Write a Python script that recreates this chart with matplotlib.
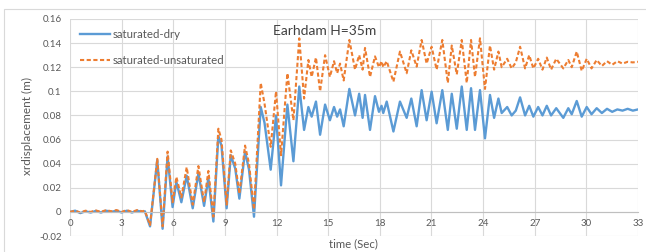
import matplotlib
matplotlib.use("Agg")
import matplotlib.pyplot as plt
from matplotlib.patches import Rectangle

# time (Sec) and x-displacement (m)
time_s = [0.0, 0.3, 0.6, 0.9, 1.2, 1.5, 1.8, 2.1, 2.4, 2.7, 3.0, 3.3, 3.6, 3.9, 4.2, 4.35,
          4.65, 5.07, 5.38, 5.67, 5.96, 6.18, 6.47, 6.78, 7.13, 7.46, 7.79, 8.04, 8.33, 8.62,
          8.8, 9.1, 9.34, 9.6, 9.84, 10.17, 10.4, 10.69, 11.08, 11.3, 11.66, 11.97, 12.26,
          12.63, 12.98, 13.32, 13.6, 13.85, 14.04, 14.29, 14.53, 14.82, 15.1, 15.34, 15.52,
          15.69, 15.9, 16.23, 16.56, 16.8, 17.0, 17.14, 17.43, 17.72, 17.95, 18.1, 18.2,
          18.4, 18.79, 19.17, 19.56, 19.83, 20.14, 20.43, 20.72, 21.01, 21.3, 21.63, 21.95,
          22.18, 22.47, 22.76, 23.05, 23.3, 23.53, 23.82, 24.11, 24.4, 24.64, 24.89, 25.08,
          25.4, 25.66, 25.9, 26.15, 26.44, 26.68, 26.92, 27.2, 27.45, 27.7, 27.95, 28.25,
          28.66, 28.95, 29.15, 29.44, 29.73, 30.02, 30.3, 30.6, 30.9, 31.2, 31.5, 31.8,
          32.1, 32.4, 32.7, 33.0]

sat_dry = [0.0, 0.001, -0.001, 0.0005, -0.0005, 0.0008, -0.0005, 0.001, 0.0, 0.001, -0.0005,
           0.001, -0.0005, 0.001, 0.0, 0.0005,
           -0.012, 0.043, -0.014, 0.046, 0.004, 0.025, 0.008, 0.030, 0.003, 0.032, 0.005,
           0.028, -0.008, 0.063, 0.055, 0.003, 0.047, 0.036, 0.011, 0.050, 0.035, -0.004,
           0.087, 0.074, 0.035, 0.080, 0.022, 0.089, 0.042, 0.104, 0.068, 0.087, 0.079,
           0.0915, 0.064, 0.089, 0.076, 0.087, 0.079, 0.085, 0.071, 0.102, 0.080, 0.098,
           0.078, 0.097, 0.068, 0.096, 0.083, 0.088, 0.082, 0.0915, 0.0667, 0.0915, 0.078,
           0.094, 0.071, 0.101, 0.076, 0.0997, 0.0735, 0.101, 0.068, 0.098, 0.069, 0.104,
           0.068, 0.1026, 0.068, 0.101, 0.061, 0.097, 0.078, 0.094, 0.082, 0.087, 0.080,
           0.084, 0.095, 0.080, 0.088, 0.079, 0.087, 0.080, 0.088, 0.080, 0.086, 0.078,
           0.086, 0.081, 0.092, 0.079, 0.087, 0.081, 0.086, 0.082, 0.0855, 0.083, 0.085,
           0.084, 0.0855, 0.084, 0.085]

sat_unsat = [0.0, 0.001, -0.0005, 0.001, 0.0, 0.0012, 0.0, 0.0015, 0.0005, 0.0015, 0.0,
             0.0015, 0.0, 0.0015, 0.0005, 0.001,
             -0.011, 0.044, -0.012, 0.050, 0.008, 0.029, 0.012, 0.037, 0.006, 0.038, 0.008,
             0.034, -0.004, 0.069, 0.060, 0.006, 0.051, 0.040, 0.015, 0.055, 0.040, 0.002,
             0.107, 0.090, 0.054, 0.100, 0.047, 0.115, 0.076, 0.144, 0.094, 0.126, 0.112,
             0.128, 0.100, 0.130, 0.112, 0.125, 0.115, 0.123, 0.109, 0.1426, 0.118, 0.130,
             0.118, 0.136, 0.112, 0.129, 0.120, 0.125, 0.120, 0.125, 0.108, 0.133, 0.115,
             0.134, 0.1205, 0.1426, 0.123, 0.137, 0.118, 0.1426, 0.107, 0.138, 0.114, 0.1426,
             0.107, 0.1426, 0.112, 0.144, 0.102, 0.138, 0.118, 0.133, 0.120, 0.127, 0.119,
             0.124, 0.137, 0.119, 0.130, 0.119, 0.127, 0.118, 0.128, 0.118, 0.127, 0.119,
             0.126, 0.120, 0.133, 0.117, 0.127, 0.119, 0.126, 0.121, 0.125, 0.122, 0.125,
             0.123, 0.1245, 0.124, 0.1245]

x_ticks = [0, 3, 6, 9, 12, 15, 18, 21, 24, 27, 30, 33]
y_ticks = [-0.02, 0, 0.02, 0.04, 0.06, 0.08, 0.1, 0.12, 0.14, 0.16]
y_labels = ["-0.02", "0", "0.02", "0.04", "0.06", "0.08", "0.1", "0.12", "0.14", "0.16"]

plt.rcParams['font.family'] = ['Lato', 'DejaVu Sans']
txt = '#595959'
grid_c = '#D9D9D9'

fig = plt.figure(figsize=(6.46, 2.52), dpi=100)
fig.patches.append(Rectangle((0.006, -0.1), 1.2, 1.064, transform=fig.transFigure,
                             fill=False, edgecolor=grid_c, linewidth=0.8))
ax = fig.add_axes([70 / 646, 16 / 252, 568 / 646, 217 / 252])

ax.plot(time_s, sat_dry, color='#5B9BD5', linewidth=1.7, solid_joinstyle='round',
        label='saturated-dry')
ax.plot(time_s, sat_unsat, color='#ED7D31', linewidth=1.5, linestyle=(0, (2, 1.2)),
        dash_joinstyle='round', label='saturated-unsaturated')

ax.set_xlim(0, 33)
ax.set_ylim(-0.02, 0.16)
ax.set_xticks(x_ticks)
ax.set_yticks(y_ticks)
ax.set_yticklabels(y_labels)
ax.grid(True, color=grid_c, linewidth=0.8)
ax.set_axisbelow(True)

for s in ['top', 'right', 'left']:
    ax.spines[s].set_visible(False)
ax.spines['bottom'].set_position(('data', 0))
ax.spines['bottom'].set_color('#BFBFBF')
ax.spines['bottom'].set_linewidth(0.8)
ax.tick_params(axis='both', length=0, labelsize=7, labelcolor=txt)
ax.tick_params(axis='x', pad=5)
ax.tick_params(axis='y', pad=6)

ax.legend(loc='upper left', bbox_to_anchor=(0.0176, 0.955), frameon=False, fontsize=8.2,
          handlelength=2.6, handletextpad=0.3, labelspacing=1.35, borderpad=0,
          borderaxespad=0, labelcolor=txt)

ax.text(0.449, 0.945, 'Earhdam H=35m', transform=ax.transAxes, ha='center', va='center',
        fontsize=10, color='#404040')

fig.text(353 / 646, 1 - 244 / 252, 'time (Sec)', ha='center', va='center', fontsize=8.2,
         color=txt)
fig.text(27 / 646, 0.5, 'xrdisplacement (m)', rotation=90, ha='center', va='center',
         fontsize=8.5, color=txt)

fig.savefig('out.png', dpi=100)
